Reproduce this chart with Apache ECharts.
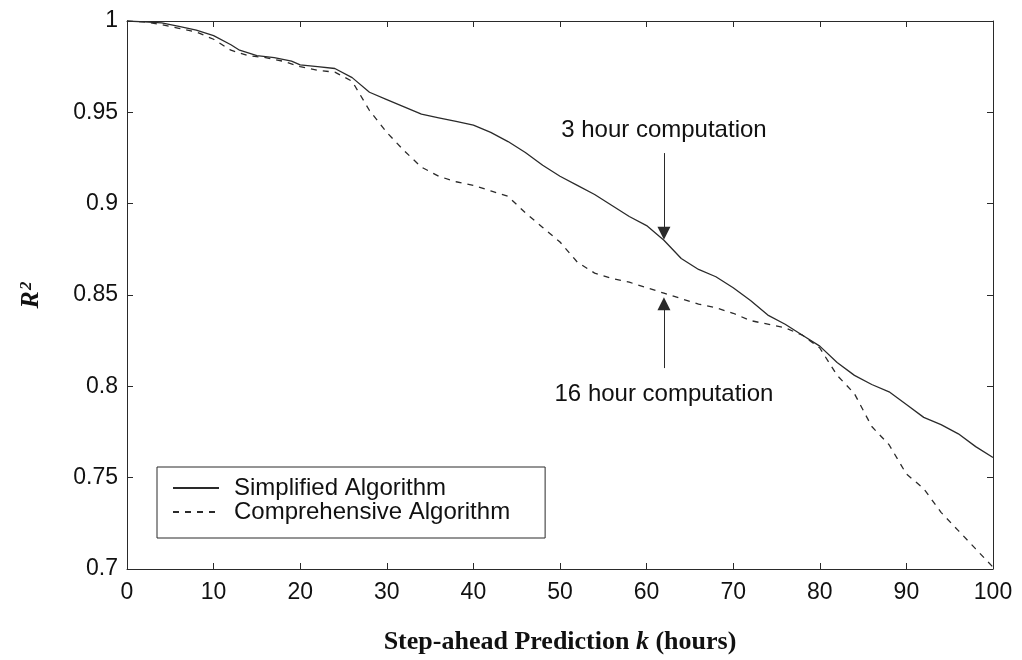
<!DOCTYPE html>
<html>
<head>
<meta charset="utf-8">
<script src="https://cdn.jsdelivr.net/npm/echarts@6/dist/echarts.min.js"></script>
<style>
html,body{margin:0;padding:0;background:#fff;}
#chart{width:1022px;height:660px;}
</style>
</head>
<body>
<div id="chart"></div>
<script>
// Step-ahead prediction horizon k (hours)
const kSimplified = [0,2,4,6,8,10,12,13,15,17,19,20,22,24,26,28,30,32,34,36,38,40,42,44,46,48,50,52,54,56,58,60,62,64,66,68,70,72,74,76,78,80,82,84,86,88,90,92,94,96,98,100];
const r2Simplified = [1.0,0.9995,0.999,0.997,0.995,0.992,0.987,0.984,0.981,0.980,0.978,0.976,0.975,0.974,0.969,0.961,0.957,0.953,0.949,0.947,0.945,0.943,0.939,0.934,0.928,0.921,0.915,0.910,0.905,0.899,0.893,0.888,0.880,0.870,0.864,0.860,0.854,0.847,0.839,0.834,0.828,0.822,0.813,0.806,0.801,0.797,0.790,0.783,0.779,0.774,0.767,0.761];
const kComprehensive = [0,2,4,6,8,10,12,14,16,18,20,22,24,26,28,30,32,34,36,38,40,42,44,46,48,50,52,54,56,58,60,62,64,66,68,70,72,74,76,78,80,82,84,86,88,90,92,94,96,98,100];
const r2Comprehensive = [1.0,0.9995,0.998,0.996,0.994,0.990,0.984,0.981,0.980,0.978,0.975,0.973,0.972,0.967,0.951,0.939,0.929,0.920,0.915,0.912,0.910,0.907,0.904,0.895,0.887,0.879,0.868,0.862,0.859,0.857,0.854,0.851,0.848,0.845,0.843,0.840,0.836,0.834,0.832,0.828,0.821,0.806,0.796,0.778,0.768,0.752,0.744,0.731,0.721,0.711,0.701];
const seriesNames = ['Simplified Algorithm','Comprehensive Algorithm'];
const annotationTexts = ['3 hour computation','16 hour computation'];
// annotation anchors in data units: [k, R2]
const arrowTop = [[62,0.9277],[62,0.8838]];
const arrowBottom = [[62,0.810],[62,0.8452]];
const textTop = [62,0.940];
const textBottom = [62,0.7955];

const pairs = (xs, ys) => xs.map((x,i)=>[x, ys[i]]);
const ink = '#2a2a2a';
const sans = '"Liberation Sans", Arial, Helvetica, sans-serif';
const serif = '"Liberation Serif", "Times New Roman", serif';

const chart = echarts.init(document.getElementById('chart'), null, {renderer:'canvas'});
const axisCommon = {
  axisLine:{show:true, onZero:false, lineStyle:{color:ink, width:1}},
  axisTick:{show:true, inside:true, length:6, lineStyle:{color:ink, width:1}},
  splitLine:{show:false}
};
const arrowItem = (seg) => [
  {coord:seg[0], symbol:'none', symbolSize:0},
  {coord:seg[1], symbol:'triangle', symbolSize:13}
];
chart.setOption({
  animation:false,
  backgroundColor:'#fff',
  grid:{left:127, right:29, top:21, bottom:91, containLabel:false, outerBoundsMode:'none'},
  legend:{
    orient:'vertical', left:157, top:467,
    data:seriesNames,
    backgroundColor:'#fff',
    borderColor:ink, borderWidth:1,
    padding:[9,35,14,15],
    itemWidth:46, itemHeight:14, itemGap:0,
    itemStyle:{opacity:0},
    textStyle:{fontFamily:sans, fontSize:24, color:'#111', lineHeight:24, padding:[0,0,0,10]}
  },
  xAxis:[
    Object.assign({type:'value', position:'bottom', min:0, max:100, interval:10,
      name:'Step-ahead Prediction {i|k} (hours)', nameLocation:'middle', nameGap:60,
      nameTextStyle:{fontFamily:serif, fontWeight:'bold', fontSize:26, color:'#111',
        rich:{i:{fontFamily:serif, fontWeight:'bold', fontStyle:'italic', fontSize:26, color:'#111'}}},
      axisLabel:{fontFamily:sans, fontSize:23, color:'#111', margin:12}}, axisCommon),
    Object.assign({type:'value', position:'top', min:0, max:100, interval:10,
      axisLabel:{show:false}}, axisCommon)
  ],
  yAxis:[
    Object.assign({type:'value', position:'left', min:0.7, max:1, interval:0.05,
      name:'{r|R}{s|2}', nameLocation:'middle', nameGap:82, nameRotate:90,
      nameTextStyle:{rich:{
        r:{fontFamily:serif, fontWeight:'bold', fontStyle:'italic', fontSize:26, color:'#111'},
        s:{fontFamily:serif, fontWeight:'bold', fontStyle:'italic', fontSize:17, color:'#111', verticalAlign:'top', padding:[0,0,10,1]}
      }},
      axisLabel:{fontFamily:sans, fontSize:23, color:'#111', margin:9}}, axisCommon),
    Object.assign({type:'value', position:'right', min:0.7, max:1, interval:0.05,
      axisLabel:{show:false}}, axisCommon)
  ],
  series:[
    {
      name:seriesNames[0], type:'line', data:pairs(kSimplified, r2Simplified),
      symbol:'none', showSymbol:false, smooth:false,
      lineStyle:{color:ink, width:1.3, type:'solid'},
      itemStyle:{color:ink},
      markLine:{
        silent:true, symbol:['none','triangle'], symbolSize:13,
        itemStyle:{color:ink},
        lineStyle:{color:ink, width:1, type:'solid'},
        label:{show:false},
        data:[arrowItem(arrowTop), arrowItem(arrowBottom)]
      },
      markPoint:{
        silent:true, symbol:'rect', symbolSize:0,
        label:{show:true, position:'inside', fontFamily:sans, fontSize:24, color:'#111'},
        data:[
          {coord:textTop, label:{formatter:annotationTexts[0]}},
          {coord:textBottom, label:{formatter:annotationTexts[1]}}
        ]
      }
    },
    {
      name:seriesNames[1], type:'line', data:pairs(kComprehensive, r2Comprehensive),
      symbol:'none', showSymbol:false, smooth:false,
      lineStyle:{color:ink, width:1.3, type:[6,6]},
      itemStyle:{color:ink}
    }
  ]
});
</script>
</body>
</html>
